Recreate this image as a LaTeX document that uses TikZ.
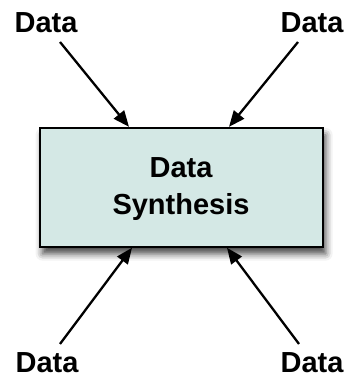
\documentclass[tikz,border=0pt]{standalone}
\usepackage{fontspec}
\setmainfont{Liberation Sans}
\usetikzlibrary{arrows.meta,shadows.blur}
\definecolor{boxfill}{HTML}{D4E8E5}
\tikzset{
  lbl/.style={font=\fontsize{29}{30}\selectfont\bfseries, inner sep=0pt, anchor=base},
  mainbox/.style={draw=black, line width=2.2pt, fill=boxfill, minimum width=283pt, minimum height=118.7pt, inner sep=0pt},
  boxtext/.style={font=\fontsize{29}{30}\selectfont\bfseries, inner sep=0pt, anchor=base},
  shadowed/.style={blur shadow={shadow xshift=3pt, shadow yshift=-7pt, shadow blur radius=7pt, shadow opacity=75}},
  arr/.style={line width=2.3pt, -{Triangle[length=16pt,width=13pt]}}
}
\begin{document}
\begin{tikzpicture}[x=1pt,y=1pt]
\useasboundingbox (0,0) rectangle (347,377);
\node[mainbox, shadowed] (box) at (181.1,189.7) {};
\node[boxtext] (t1) at (181,199) {Data};
\node[boxtext] (t2) at (181,162) {Synthesis};
\node[lbl] (tl) at (46,344) {Data};
\node[lbl] (tr) at (312,344) {Data};
\node[lbl] (bl) at (47,5) {Data};
\node[lbl] (br) at (312,5) {Data};
\coordinate (tls) at (60,335);
\coordinate (trs) at (298,335);
\coordinate (bls) at (60,33);
\coordinate (brs) at (299,33);
\coordinate (tlt) at ([xshift=90.5pt]box.north west);
\coordinate (trt) at ([xshift=190.5pt]box.north west);
\coordinate (blt) at ([xshift=93.5pt]box.south west);
\coordinate (brt) at ([xshift=188.5pt]box.south west);
\draw[arr] (tls) -- (tlt);
\draw[arr] (trs) -- (trt);
\draw[arr] (bls) -- (blt);
\draw[arr] (brs) -- (brt);
\end{tikzpicture}
\end{document}
